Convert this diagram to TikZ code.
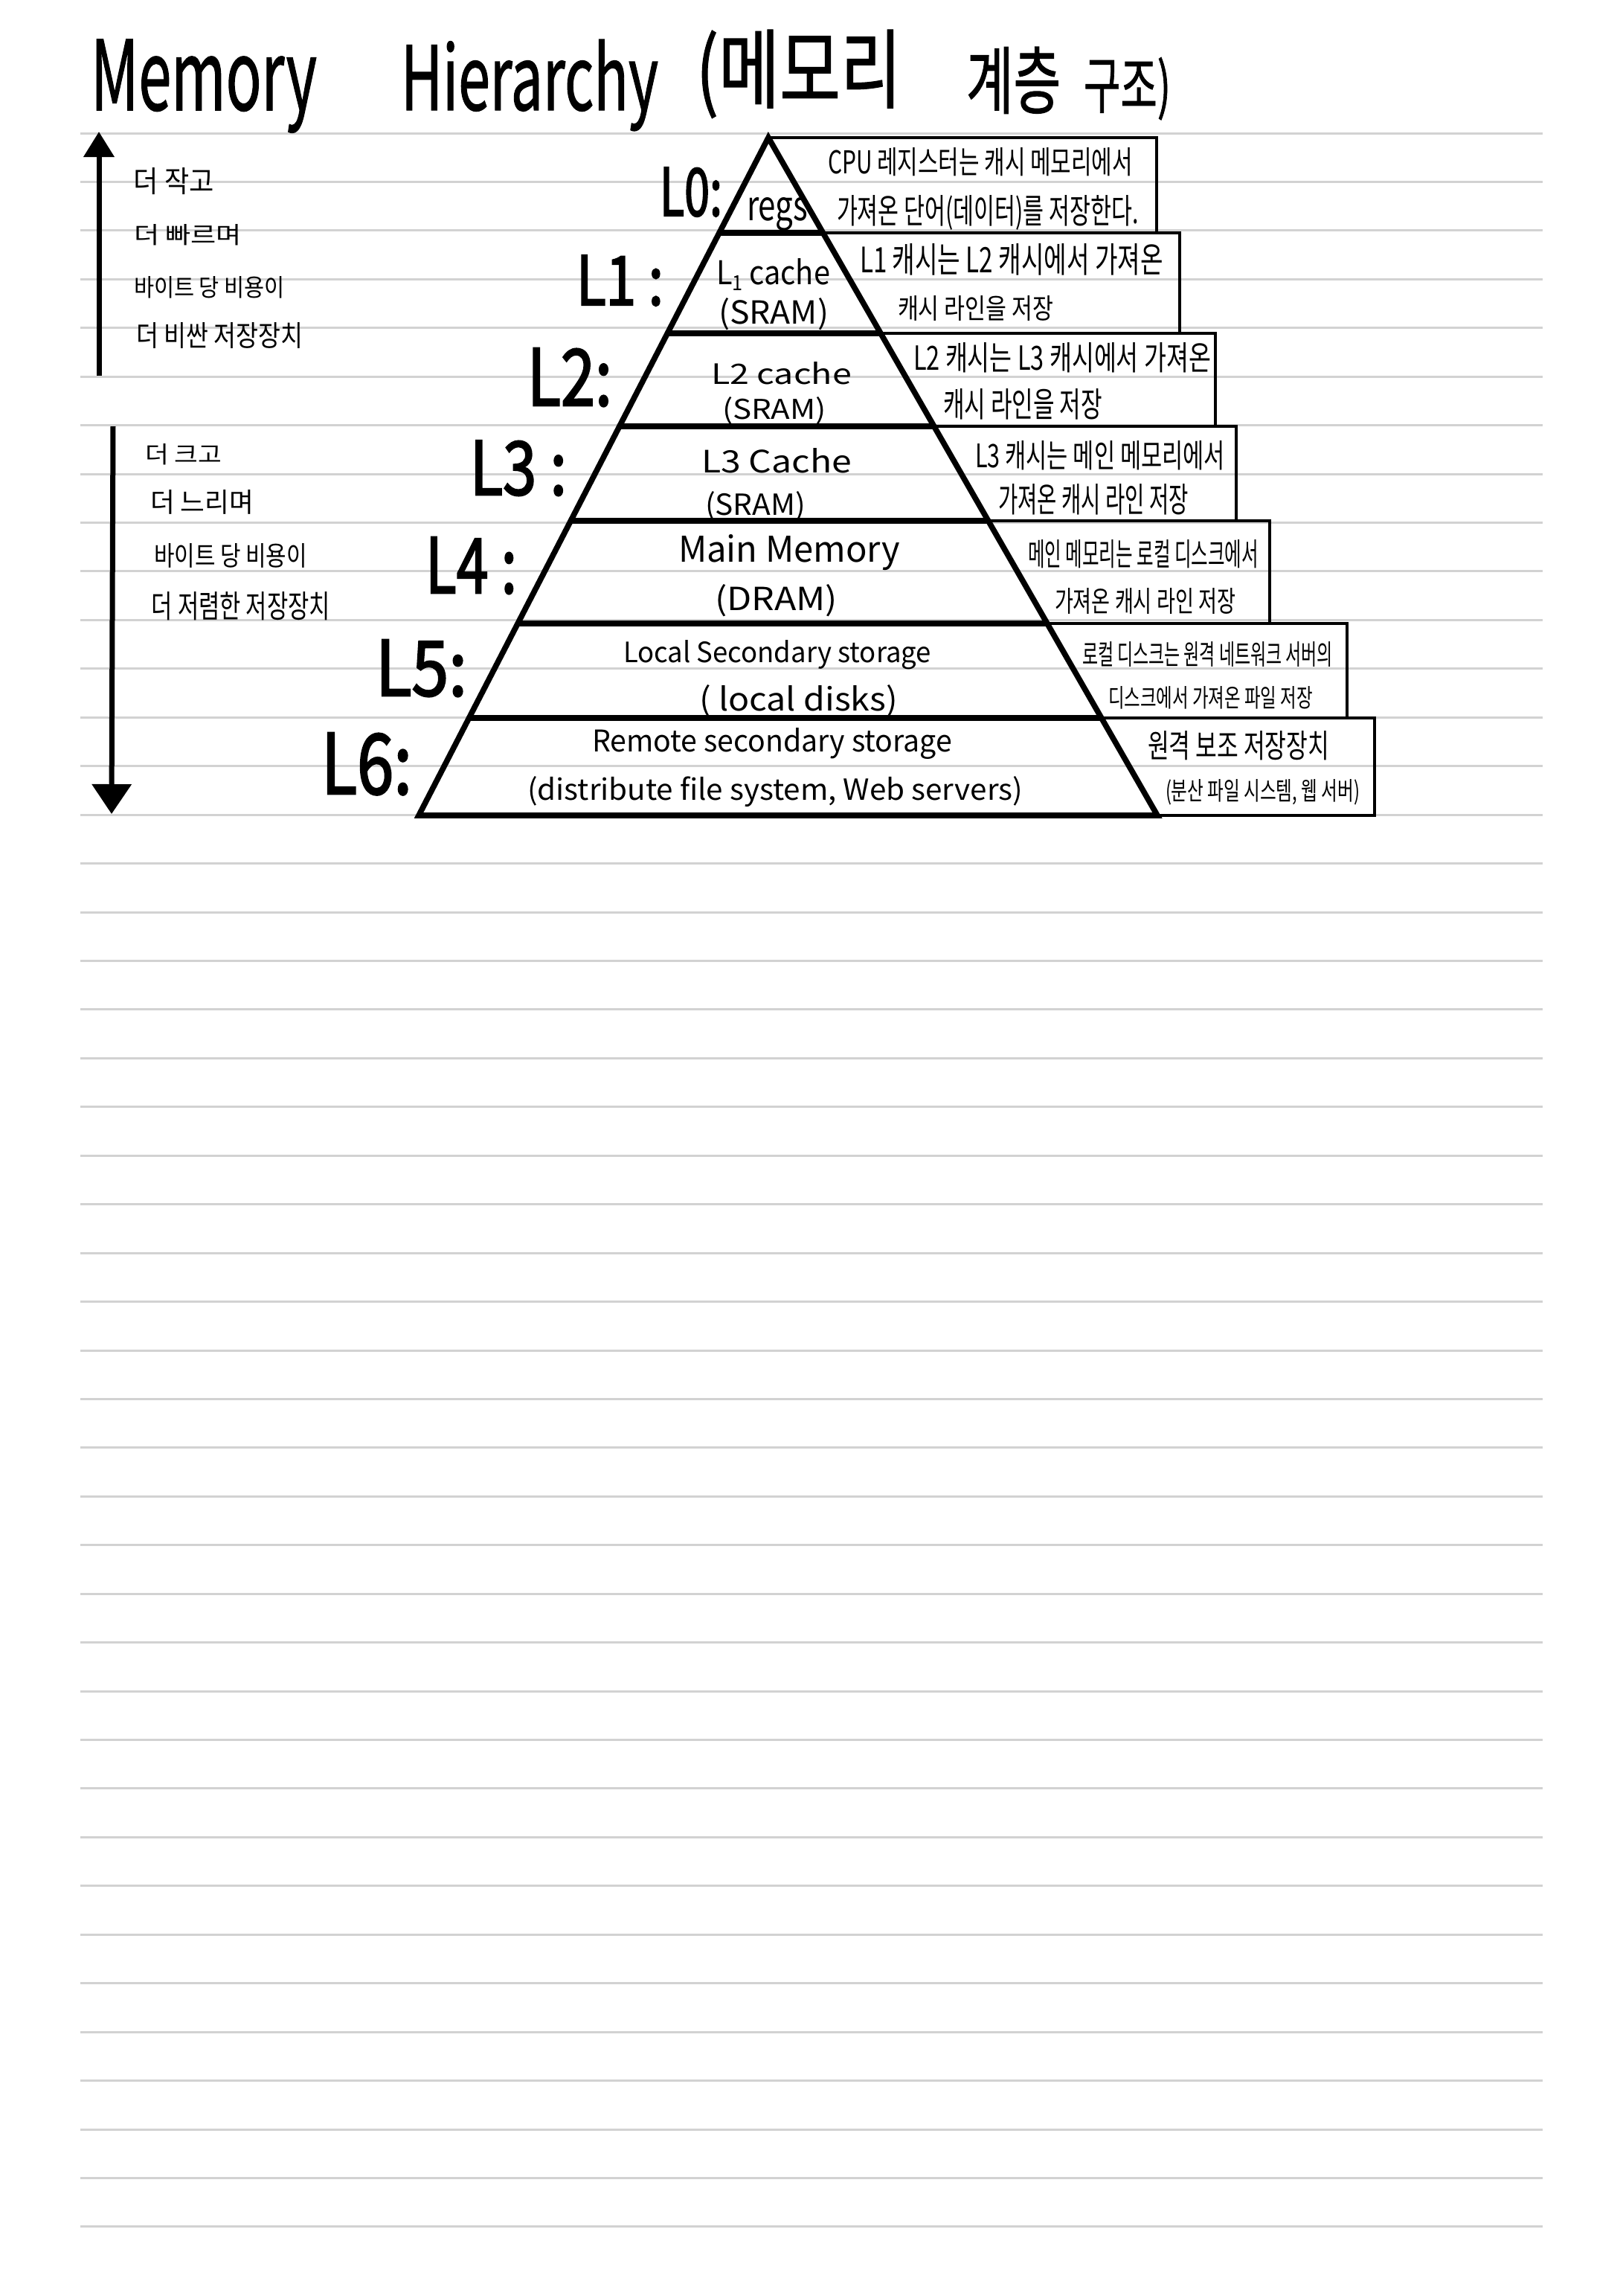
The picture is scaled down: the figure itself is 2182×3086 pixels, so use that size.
\documentclass[tikz,border=0pt]{standalone}
\usepackage{fontspec}
\usepackage{graphicx}
\usetikzlibrary{arrows.meta,calc}
\newfontfamily\kr{Noto Sans CJK KR}
\newfontfamily\krb{Noto Sans CJK KR}[FakeBold=2.5]
\newfontfamily\krt{Noto Sans CJK KR}[FakeBold=1.2]
\newlength\pxu
\setlength\pxu{0.25pt}
\newcommand\fitx[3]{\resizebox{#1\pxu}{#2\pxu}{#3}}
\definecolor{rulegray}{RGB}{210,210,210}
\tikzset{
  rule/.style={draw=rulegray, line width=0.75pt},
  pyredge/.style={line width=1.9pt, line join=miter},
  pyrdiv/.style={line width=2.2pt},
  boxln/.style={line width=1pt, line join=miter},
  arr/.style={line width=1.75pt},
  ttl/.style={font={\krt\fontsize{32}{36}\selectfont}, anchor=base west},
  big/.style={font={\krb\fontsize{26}{30}\selectfont}, anchor=base west},
  mid/.style={font={\kr\fontsize{11}{13}\selectfont}, anchor=base west},
  sm/.style={font={\kr\fontsize{10}{12}\selectfont}, anchor=base west},
}
\begin{document}
\begin{tikzpicture}[x=0.25pt, y=-0.25pt, every node/.style={inner sep=0pt, outer sep=0pt}]
\useasboundingbox (0,0) rectangle (2182,3086);
\fill[white] (0,0) rectangle (2182,3086);

% ruled paper lines
\foreach \k in {0,...,43}
  \draw[rule] (108,{179+65.44*\k}) -- (2074,{179+65.44*\k});

% title
\node[ttl] (tMem) at (122,148) {\fitx{304}{95}{Memory}};
\node[ttl] (tHie) at (539,148) {\fitx{346}{95}{Hierarchy}};
\node[ttl] (tKo1) at (936,136) {\fitx{276}{96}{(메모리}};
\node[ttl] (tKo2) at (1299,145) {\fitx{127}{82}{계층}};
\node[ttl] (tKo3) at (1457,145) {\fitx{117}{68}{구조)}};

% left arrows
\coordinate (upS) at (133,505);
\coordinate (upE) at (133,177);
\draw[arr, -{Triangle[width=10pt,length=8.5pt]}] (upS) -- (upE);
\coordinate (dnS) at (152,573);
\coordinate (dnE) at (150,1094);
\draw[arr, -{Triangle[width=13pt,length=10pt]}] (dnS) -- (dnE);

% left texts
\node[sm] (u1) at (180,258) {\fitx{108}{33}{더 작고}};
\node[sm] (u2) at (180,327) {\fitx{145}{26}{더 빠르며}};
\node[sm] (u3) at (180,398) {\fitx{203}{27}{바이트 당 비용이}};
\node[sm] (u4) at (183,465) {\fitx{224}{32}{더 비싼 저장장치}};
\node[sm] (d1) at (195,622) {\fitx{103}{26}{더 크고}};
\node[sm] (d2) at (202,688) {\fitx{139}{30}{더 느리며}};
\node[sm] (d3) at (207,760) {\fitx{206}{30}{바이트 당 비용이}};
\node[sm] (d4) at (204,830) {\fitx{240}{35}{더 저렴한 저장장치}};

% pyramid geometry
\coordinate (A) at (1033,185);
\coordinate (BL) at (563,1096);
\coordinate (BR) at (1556,1096);
\coordinate (l1) at ($(A)!0.1405!(BL)$); \coordinate (r1) at ($(A)!0.1405!(BR)$);
\coordinate (l2) at ($(A)!0.2887!(BL)$); \coordinate (r2) at ($(A)!0.2887!(BR)$);
\coordinate (l3) at ($(A)!0.4259!(BL)$); \coordinate (r3) at ($(A)!0.4259!(BR)$);
\coordinate (l4) at ($(A)!0.5653!(BL)$); \coordinate (r4) at ($(A)!0.5653!(BR)$);
\coordinate (l5) at ($(A)!0.7168!(BL)$); \coordinate (r5) at ($(A)!0.7168!(BR)$);
\coordinate (l6) at ($(A)!0.8562!(BL)$); \coordinate (r6) at ($(A)!0.8562!(BR)$);

% right-hand boxes
\coordinate (bx0) at (1555,0);
\coordinate (bx1) at (1586,0);
\coordinate (bx2) at (1634,0);
\coordinate (bx3) at (1662,0);
\coordinate (bx4) at (1707,0);
\coordinate (bx5) at (1811,0);
\coordinate (bx6) at (1848,0);
\draw[boxln] (A) -- (A -| bx0) -- (r1 -| bx0);
\draw[boxln] (r1) -- (r1 -| bx1) -- (r2 -| bx1);
\draw[boxln] (r2) -- (r2 -| bx2) -- (r3 -| bx2);
\draw[boxln] (r3) -- (r3 -| bx3) -- (r4 -| bx3);
\draw[boxln] (r4) -- (r4 -| bx4) -- (r5 -| bx4);
\draw[boxln] (r5) -- (r5 -| bx5) -- (r6 -| bx5);
\draw[boxln] (r6) -- (r6 -| bx6) -- (BR -| bx6) -- (BR);

% pyramid outline and dividers
\draw[pyredge] (A) -- (BL) -- (BR) -- cycle;
\draw[pyrdiv] (l1) -- (r1);
\draw[pyrdiv] (l2) -- (r2);
\draw[pyrdiv] (l3) -- (r3);
\draw[pyrdiv] (l4) -- (r4);
\draw[pyrdiv] (l5) -- (r5);
\draw[pyrdiv] (l6) -- (r6);
\draw[pyrdiv] (BL) -- (BR);

% level labels
\node[big] (lv0) at (887,290) {\fitx{84}{65}{L0:}};
\node[big] (lv1) at (775,410) {\fitx{117}{67}{L1 :}};
\node[big] (lv2) at (709,545) {\fitx{114}{77}{L2:}};
\node[big] (lv3) at (632,665) {\fitx{130}{73}{L3 :}};
\node[big] (lv4) at (572,797) {\fitx{123}{75}{L4 :}};
\node[big] (lv5) at (505,935) {\fitx{123}{75}{L5:}};
\node[big] (lv6) at (432,1067) {\fitx{122}{82}{L6:}};

% pyramid texts
\node[mid] (p0) at (1004,296) {\fitx{82}{31}{regs}};
\node[mid] (p1a) at (963,382) {\fitx{153}{35}{L\raisebox{-0.2em}{\fontsize{7}{7}\selectfont 1} cache}};
\node[mid] (p1b) at (966,435) {\fitx{148}{35}{(SRAM)}};
\node[mid] (p2a) at (956,516) {\fitx{189}{30}{L2 cache}};
\node[mid] (p2b) at (971,563) {\fitx{140}{30}{(SRAM)}};
\node[mid] (p3a) at (943,635) {\fitx{202}{33}{L3 Cache}};
\node[mid] (p3b) at (948,692) {\fitx{135}{32}{(SRAM)}};
\node[mid] (p4a) at (912,755) {\fitx{298}{37}{Main Memory}};
\node[mid] (p4b) at (961,820) {\fitx{165}{35}{(DRAM)}};
\node[mid] (p5a) at (838,890) {\fitx{414}{30}{Local Secondary storage}};
\node[mid] (p5b) at (940,955) {\fitx{267}{35}{( local disks)}};
\node[mid] (p6a) at (796,1010) {\fitx{484}{32}{Remote secondary storage}};
\node[mid] (p6b) at (709,1075) {\fitx{666}{32}{(distribute file system, Web servers)}};

% box texts
\node[mid] (k0a) at (1113,233) {\fitx{410}{35}{CPU 레지스터는 캐시 메모리에서}};
\node[mid] (k0b) at (1125,300) {\fitx{406}{38}{가져온 단어(데이터)를 저장한다.}};
\node[mid] (k1a) at (1156,366) {\fitx{408}{39}{L1 캐시는 L2 캐시에서 가져온}};
\node[mid] (k1b) at (1207,428) {\fitx{209}{31}{캐시 라인을 저장}};
\node[mid] (k2a) at (1228,497) {\fitx{400}{37}{L2 캐시는 L3 캐시에서 가져온}};
\node[mid] (k2b) at (1268,560) {\fitx{214}{38}{캐시 라인을 저장}};
\node[mid] (k3a) at (1311,628) {\fitx{336}{36}{L3 캐시는 메인 메모리에서}};
\node[mid] (k3b) at (1342,688) {\fitx{256}{38}{가져온 캐시 라인 저장}};
\node[mid] (k4a) at (1382,760) {\fitx{310}{35}{메인 메모리는 로컬 디스크에서}};
\node[mid] (k4b) at (1418,822) {\fitx{243}{32}{가져온 캐시 라인 저장}};
\node[mid] (k5a) at (1455,893) {\fitx{337}{31}{로컬 디스크는 원격 네트워크 서버의}};
\node[mid] (k5b) at (1490,950) {\fitx{275}{28}{디스크에서 가져온 파일 저장}};
\node[mid] (k6a) at (1543,1018) {\fitx{244}{36}{원격 보조 저장장치}};
\node[mid] (k6b) at (1567,1075) {\fitx{261}{28}{(분산 파일 시스템, 웹 서버)}};
\end{tikzpicture}
\end{document}
